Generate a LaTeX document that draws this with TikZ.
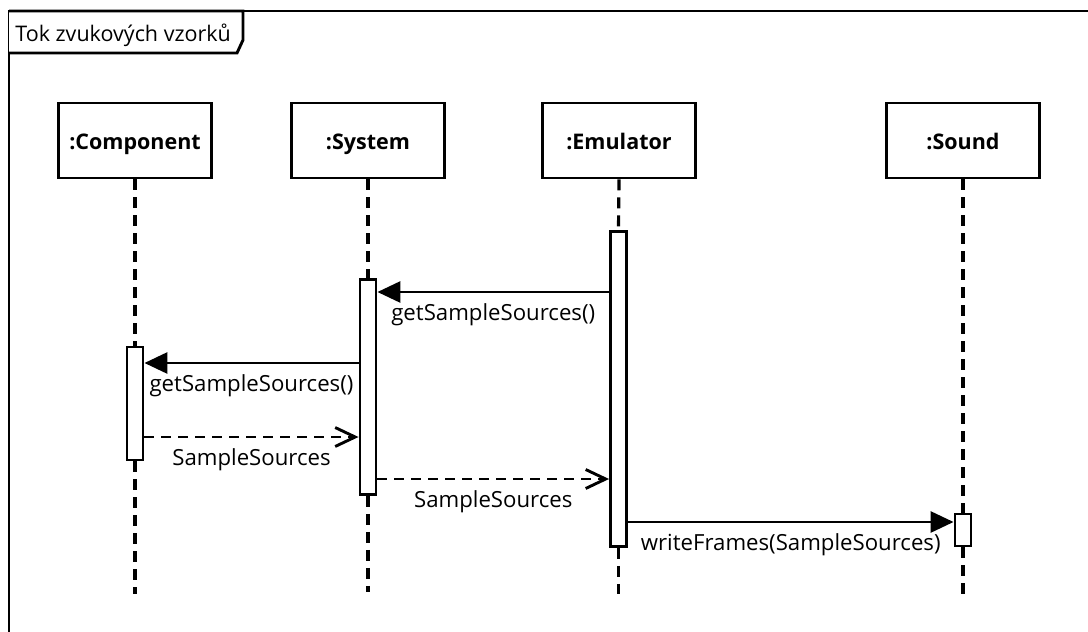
\documentclass[tikz,border=0pt]{standalone}
\usepackage{fontspec}
\setmainfont{Open Sans}
\usetikzlibrary{arrows.meta}
\begin{document}
\begin{tikzpicture}[x=1pt,y=-1pt,line width=2.9pt,
  font=\fontsize{22.2}{26}\selectfont,
  participant/.style={draw,fill=white,minimum width=153pt,minimum height=75pt,
    inner sep=0pt,font=\fontsize{21.5}{26}\selectfont\bfseries,
    text height=17pt,text depth=0pt},
  activation/.style={draw,fill=white,minimum width=16pt,inner sep=0pt},
  lifeline/.style={line width=3.2pt,dash pattern=on 11pt off 7pt},
  syncmsg/.style={-{Triangle[length=23pt,width=21pt]}},
  replymsg/.style={dash pattern=on 10pt off 7pt,
    -{Straight Barb[length=20pt,width=19pt]}},
  msglabel/.style={anchor=base,yshift=-28pt,inner sep=0pt}]

\useasboundingbox (0,0) rectangle (1088,632);
\clip (0,0) rectangle (1088,632);

% sequence frame and its name tab
\draw (1100,11) -- (9,11) -- (9,650);
\draw[fill=white] (9,11) -- (243,11) -- (243,40) -- (237,53) -- (9,53);
\node[anchor=base west,inner sep=0pt,font=\fontsize{21.5}{26}\selectfont]
  (frametitle) at (14,41) {Tok zvukových vzorků};

% participants
\node[participant] (comp) at (135,140.5) {:Component};
\node[participant] (sys)  at (368,140.5) {:System};
\node[participant] (emu)  at (619,140.5) {:Emulator};
\node[participant] (snd)  at (963,140.5) {:Sound};

% activation bars
\node[activation,minimum height=113pt] (compA) at (135,403.5) {};
\node[activation,minimum height=215pt] (sysA)  at (368,387) {};
\node[activation,minimum height=315pt] (emuA)  at (618.5,389) {};
\node[activation,minimum height=32pt]  (sndA)  at (963,530) {};

% lifeline ends
\coordinate (compEnd) at (135,594);
\coordinate (sysEnd)  at (368,592);
\coordinate (emuEnd)  at (618.5,594);
\coordinate (sndEnd)  at (963,596);

% lifelines
\draw[lifeline] (comp.south) -- (compA.north);
\draw[lifeline] (compA.south) -- (compEnd);
\draw[lifeline] (sys.south) -- (sysA.north);
\draw[lifeline] (sysA.south) -- (sysEnd);
\draw[lifeline] (emu.south) -- (emuA.north);
\draw[lifeline] (emuA.south) -- (emuEnd);
\draw[lifeline] (snd.south) -- (sndA.north);
\draw[lifeline] (sndA.south) -- (sndEnd);

% message heights
\coordinate (y1) at (0,292);
\coordinate (y2) at (0,363);
\coordinate (y3) at (0,437);
\coordinate (y4) at (0,479);
\coordinate (y5) at (0,522);

% messages
\draw[syncmsg] (emuA.west |- y1) -- node[msglabel] {getSampleSources()} (sysA.east |- y1);
\draw[syncmsg] (sysA.west |- y2) -- node[msglabel] {getSampleSources()} (compA.east |- y2);
\draw[replymsg] (compA.east |- y3) -- node[msglabel] {SampleSources} (sysA.west |- y3);
\draw[replymsg] (sysA.east |- y4) -- node[msglabel] {SampleSources} (emuA.west |- y4);
\draw[syncmsg] (emuA.east |- y5) -- node[msglabel] {writeFrames(SampleSources)} (sndA.west |- y5);
\end{tikzpicture}
\end{document}
